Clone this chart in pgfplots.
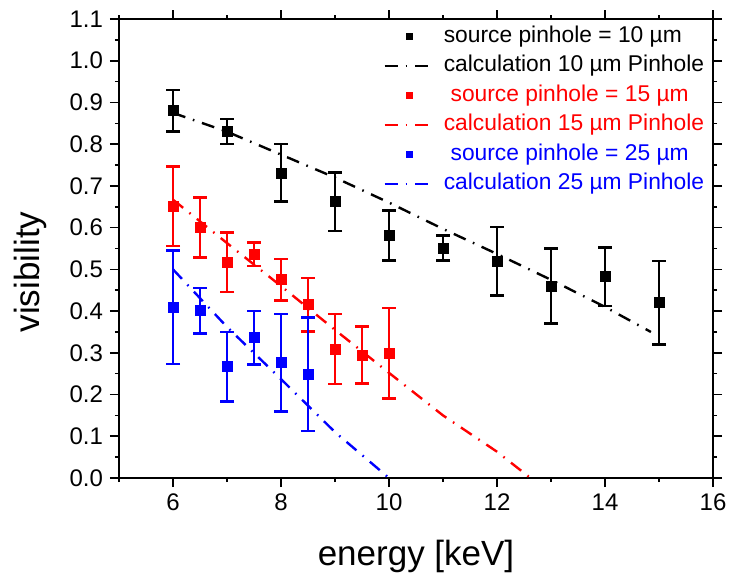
\documentclass[border=0pt]{standalone}
\usepackage{fontspec}
\setmainfont{Liberation Sans}
\usepackage{pgfplots}
\pgfplotsset{compat=1.18}
\usepackage{pgfplotstable}

\pgfplotstableread{
x y e
6  0.880 0.050
7  0.830 0.030
8  0.731 0.069
9  0.662 0.070
10 0.581 0.060
11 0.551 0.030
12 0.520 0.082
13 0.460 0.090
14 0.482 0.070
15 0.420 0.100
}\tenmeas

\pgfplotstableread{
x y e
6   0.651 0.095
6.5 0.600 0.072
7   0.517 0.071
7.5 0.536 0.028
8   0.475 0.050
8.5 0.415 0.064
9   0.309 0.084
9.5 0.295 0.068
10  0.299 0.108
}\fifteenmeas

\pgfplotstableread{
x y e
6   0.409 0.136
6.5 0.401 0.054
7   0.267 0.083
7.5 0.336 0.064
8   0.276 0.117
8.5 0.249 0.136
}\twentyfivemeas

\tikzset{calc line/.style={line width=1.2pt, dash pattern=on 6.5pt off 4pt on 0.8pt off 4pt}}

\begin{document}
\begin{tikzpicture}
\begin{axis}[
  scale only axis,
  width=297pt, height=229.5pt,
  xmin=5, xmax=16, ymin=0, ymax=1.1,
  xtick distance=2, minor x tick num=1,
  ytick distance=0.1, minor y tick num=1,
  tick align=outside,
  major tick length=4.5pt, minor tick length=2pt,
  axis line style={line width=0.8pt},
  every tick/.style={black, line width=0.8pt},
  ticklabel style={font=\fontsize{12}{14}\selectfont},
  /pgf/number format/assume math mode=true,
  yticklabel style={/pgf/number format/.cd, fixed, fixed zerofill, precision=1},
  xlabel={energy [keV]},
  ylabel={visibility},
  label style={font=\fontsize{17.5}{20}\selectfont},
  xlabel style={at={(rel axis cs:0.5,0)}, anchor=base, yshift=-43.5pt},
  ylabel style={at={(rel axis cs:0,0.5)}, anchor=base, xshift=-11.75pt, yshift=39.5pt},
  legend style={at={(rel axis cs:0,1)}, anchor=north west, xshift=132pt, yshift=-2pt,
    draw=none, fill=none, inner sep=0pt, row sep=1.75pt,
    font=\fontsize{11.4}{13}\selectfont,
    nodes={inner sep=1pt, text height=8.5pt, text depth=2.5pt},
    /tikz/every odd column/.append style={column sep=3pt}},
  legend cell align=left,
  legend image code/.code={\draw[mark repeat=2, mark phase=2, #1] plot coordinates {(0pt,0pt) (12.5pt,0pt) (25pt,0pt)};},
  error bars/error bar style={line width=1.3pt},
  error bars/error mark options={rotate=90, mark size=3.5pt, line width=1.3pt},
]

\addplot[black, only marks, mark=square*, mark size=2.5pt,
  legend image post style={mark size=1.6pt},
  error bars/.cd, y dir=both, y explicit]
  table[x=x, y=y, y error=e] {\tenmeas};
\addlegendentry{source pinhole = 10 µm}

\addplot[black, calc line] coordinates {
  (6,0.875) (7,0.830) (8,0.775) (9,0.720) (10,0.660) (11,0.597)
  (12,0.537) (13,0.475) (14,0.410) (14.85,0.350)};
\addlegendentry{calculation 10 µm Pinhole}

\addplot[red, only marks, mark=square*, mark size=2.5pt,
  legend image post style={mark size=1.6pt},
  error bars/.cd, y dir=both, y explicit]
  table[x=x, y=y, y error=e] {\fifteenmeas};
\addlegendentry{\textcolor{red}{\hspace{0.3em}source pinhole = 15 µm}}

\addplot[red, calc line] coordinates {
  (6,0.667) (7,0.563) (8,0.460) (9,0.355) (10,0.252) (11,0.150)
  (12,0.063) (12.62,0)};
\addlegendentry{\textcolor{red}{calculation 15 µm Pinhole}}

\addplot[blue, only marks, mark=square*, mark size=2.5pt,
  legend image post style={mark size=1.6pt},
  error bars/.cd, y dir=both, y explicit]
  table[x=x, y=y, y error=e] {\twentyfivemeas};
\addlegendentry{\textcolor{blue}{\hspace{0.3em}source pinhole = 25 µm}}

\addplot[blue, calc line] coordinates {
  (6,0.500) (7,0.362) (8,0.237) (9,0.110) (10,0)};
\addlegendentry{\textcolor{blue}{calculation 25 µm Pinhole}}

\end{axis}
\pgfresetboundingbox
\path[use as bounding box] ([xshift=-59.5pt, yshift=-48pt]current axis.south west)
  rectangle ([xshift=9pt, yshift=9.5pt]current axis.north east);
\end{tikzpicture}
\end{document}
